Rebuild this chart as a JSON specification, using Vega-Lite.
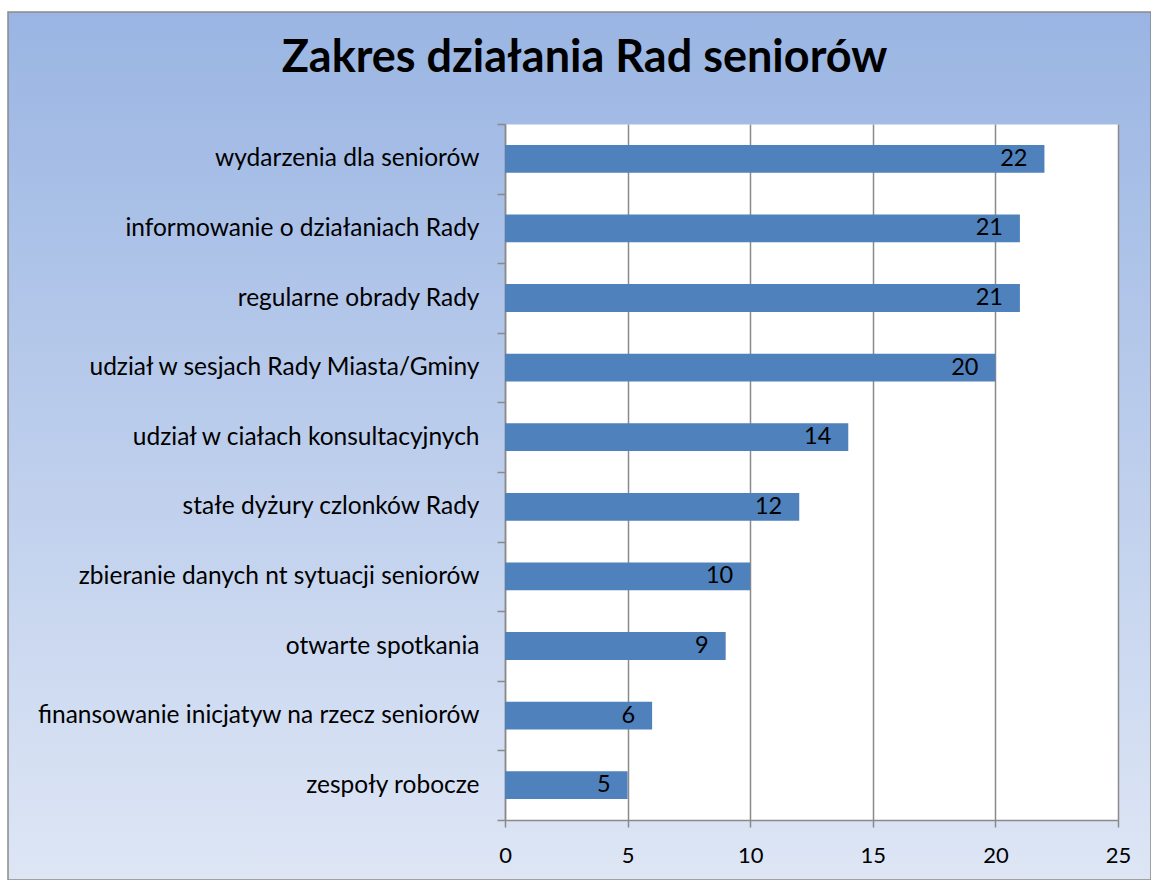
{
  "$schema": "https://vega.github.io/schema/vega-lite/v6.json",
  "width": 1143,
  "height": 868,
  "autosize": {"type": "none"},
  "padding": {"left": 8, "top": 12, "right": 0, "bottom": 0},
  "background": "#ffffff",
  "title": {
    "text": "Zakres działania Rad seniorów",
    "font": "Lato",
    "fontSize": 45,
    "fontWeight": "bold",
    "color": "#000000",
    "anchor": "middle",
    "frame": "group",
    "baseline": "alphabetic",
    "offset": -118,
    "dx": 5
  },
  "config": {
    "font": "Lato",
    "view": {
      "fill": {
        "gradient": "linear",
        "x1": 0, "y1": 0, "x2": 0, "y2": 1,
        "stops": [
          {"offset": 0, "color": "#9ab5e3"},
          {"offset": 1, "color": "#dee6f5"}
        ]
      },
      "stroke": "#8a8a8a",
      "strokeWidth": 1.5
    }
  },
  "data": {
    "values": [
      {"category": "wydarzenia dla seniorów", "value": 22},
      {"category": "informowanie o działaniach Rady\u00a0", "value": 21},
      {"category": "regularne obrady Rady", "value": 21},
      {"category": "udział w sesjach Rady Miasta/Gminy", "value": 20},
      {"category": "udział w ciałach konsultacyjnych\u00a0", "value": 14},
      {"category": "stałe dyżury czlonków Rady", "value": 12},
      {"category": "zbieranie danych nt sytuacji seniorów\u00a0", "value": 10},
      {"category": "otwarte spotkania", "value": 9},
      {"category": "finansowanie inicjatyw na rzecz seniorów\u00a0", "value": 6},
      {"category": "zespoły robocze", "value": 5}
    ]
  },
  "encoding": {
    "y": {
      "field": "category",
      "type": "nominal",
      "sort": null,
      "scale": {"range": [112, 808], "paddingInner": 0, "paddingOuter": 0},
      "axis": {
        "orient": "left",
        "offset": -497,
        "title": null,
        "grid": false,
        "tickBand": "extent",
        "domainColor": "#8a8a8a",
        "domainWidth": 1.5,
        "tickColor": "#8a8a8a",
        "tickWidth": 1.5,
        "tickSize": 8,
        "labelPadding": 18,
        "labelFont": "Lato",
        "labelFontSize": 24.5,
        "labelColor": "#000000",
        "labelLimit": 0
      }
    }
  },
  "layer": [
    {
      "mark": {"type": "bar", "color": "#4f81bd", "height": {"band": 0.4}},
      "encoding": {
        "x": {
          "field": "value",
          "type": "quantitative",
          "scale": {"domain": [0, 25], "range": [497, 1110], "nice": false},
          "axis": {
            "orient": "top",
            "offset": 0,
            "values": [12.5],
            "grid": true,
            "gridColor": "#ffffff",
            "gridOpacity": 1,
            "gridWidth": 613,
            "ticks": false,
            "labels": false,
            "domain": false,
            "title": null
          }
        }
      }
    },
    {
      "mark": {"type": "text", "align": "right", "baseline": "middle", "dx": -17, "font": "Lato", "fontSize": 23.5, "color": "#000000"},
      "encoding": {
        "x": {
          "field": "value",
          "type": "quantitative",
          "scale": {"domain": [0, 25], "range": [497, 1110], "nice": false},
          "axis": {
            "orient": "top",
            "offset": -808,
            "values": [0, 5, 10, 15, 20, 25],
            "grid": true,
            "gridColor": "#8a8a8a",
            "gridOpacity": 1,
            "gridWidth": 1.5,
            "domain": true,
            "domainColor": "#8a8a8a",
            "domainWidth": 1.5,
            "ticks": true,
            "tickColor": "#8a8a8a",
            "tickWidth": 1.5,
            "tickSize": -7,
            "labelBaseline": "alphabetic",
            "labelPadding": -35,
            "labelFont": "Lato",
            "labelFontSize": 22,
            "labelColor": "#000000",
            "labelFlush": false,
            "title": null
          }
        },
        "text": {"field": "value", "type": "quantitative"}
      }
    }
  ],
  "resolve": {"axis": {"x": "independent"}}
}
